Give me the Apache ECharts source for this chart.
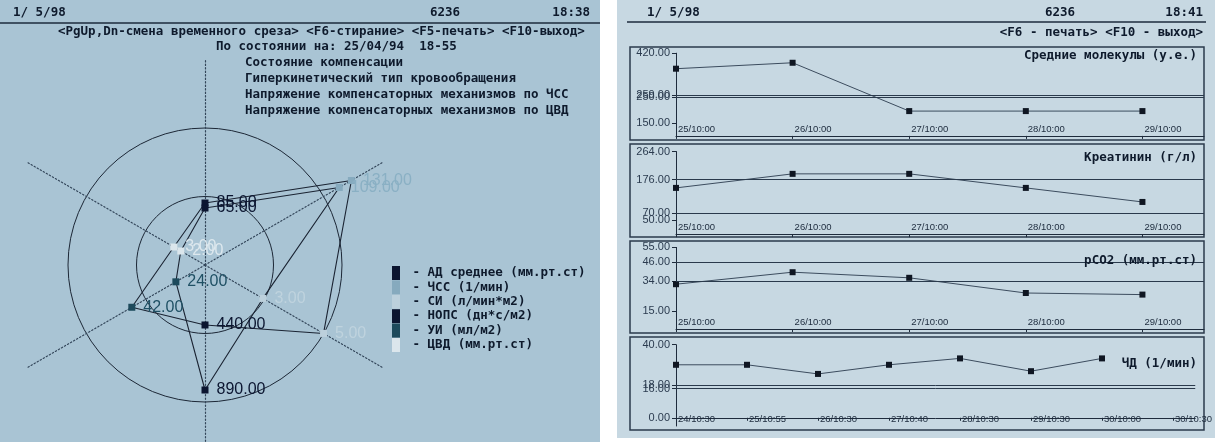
<!DOCTYPE html>
<html><head><meta charset="utf-8">
<script src="https://cdn.jsdelivr.net/npm/echarts@6/dist/echarts.min.js"></script>
<style>html,body{margin:0;padding:0;background:#fff}#c{width:1215px;height:442px}</style>
</head><body><div id="c"></div>
<script>
// ================= DATA =================
// Radar (left screen): indicators listed counter-clockwise starting from the top axis
const radarIndicators = ['АД', 'ЦВД', 'УИ', 'НОПС', 'СИ', 'ЧСС'];
const sliceCurrent  = [85, 3, 42, 440, 5, 131];
const slicePrevious = [65, 2, 24, 890, 3, 109];
const legendKeys  = ['АД', 'ЧСС', 'СИ', 'НОПС', 'УИ', 'ЦВД'];
const legendNames = ['АД среднее (мм.рт.ст)', 'ЧСС (1/мин)', 'СИ (л/мин*м2)', 'НОПС (дн*с/м2)', 'УИ (мл/м2)', 'ЦВД (мм.рт.ст)'];

// Trend charts (right screen)
const days5 = ['25/10:00', '26/10:00', '27/10:00', '28/10:00', '29/10:00'];
const moleculesValues = [360, 383, 196, 196, 196];
const moleculesTicks  = [420, 259, 250, 150];
const moleculesNorm   = [259, 250];
const creatinineValues = [150, 194, 194, 150, 106];
const creatinineTicks  = [264, 176, 70, 50];
const creatinineNorm   = [176, 70];
const pco2Values = [32, 39.5, 36, 26.5, 25.5];
const pco2Ticks  = [55, 46, 34, 15];
const pco2Norm   = [46, 34];
const rrTimes  = ['24/10:30', '25/10:55', '26/10:30', '27/10:40', '28/10:30', '29/10:30', '30/10:00', '30/10:30'];
const rrValues = [29, 29, 24, 29, 32.5, 25.5, 32.5];
const rrTicks  = [40, 18, 16, 0];
const rrNorm   = [18, 16];

// ================= STYLE / LAYOUT =================
const DOS = 'DejaVu Sans Mono';
const INK = '#0e1a2c';
const squareColor = {'АД':'#0b1530','ЧСС':'#86aabe','СИ':'#bcd0dc','НОПС':'#0b1530','УИ':'#1d4a5c','ЦВД':'#dbe6ec'};
const textColor   = {'АД':'#0b1530','ЧСС':'#8ab0c4','СИ':'#bfd3de','НОПС':'#0b1530','УИ':'#1f5064','ЦВД':'#dde8ee'};
// per-axis scale of the radar (layout)
const radarScale = {'АД':[-163,659],'ЦВД':[-1.5,24.2],'УИ':[12.1,84.8],'НОПС':[25,1447],'СИ':[1.09,6.96],'ЧСС':[-134.6,188.3]};

const panels = [
  {title:'Средние молекулы (у.е.)', values:moleculesValues, ticks:moleculesTicks, norm:moleculesNorm, cats:days5, min:100, max:420, top:53.2, bottom:135.9, frame:[47,140], xmax:4.528, ty:56},
  {title:'Креатинин (г/л)', values:creatinineValues, ticks:creatinineTicks, norm:creatinineNorm, cats:days5, min:5, max:264, top:151.5, bottom:234.2, frame:[144,237], xmax:4.528, ty:158},
  {title:'pCO2 (мм.рт.ст)', values:pco2Values, ticks:pco2Ticks, norm:pco2Norm, cats:days5, min:4, max:55, top:247.4, bottom:329, frame:[241,333], xmax:4.528, ty:261},
  {title:'ЧД (1/мин)', values:rrValues, ticks:rrTicks, norm:rrNorm, cats:rrTimes, min:-4.5, max:40, top:344.7, bottom:426, frame:[337,430], xmax:7.313, ty:364}
];

function txt(text, pos, y, extra) {
  return Object.assign({
    text: text, top: y - 7.5, padding: 0,
    textStyle: {fontFamily: DOS, fontWeight: 'bold', fontSize: 12.5, lineHeight: 15, color: INK}
  }, pos, extra || {});
}

const titles = [
  txt('1/ 5/98', {left: 13}, 13),
  txt('6236', {left: 430}, 13),
  txt('18:38', {right: 625}, 13),
  txt('<PgUp,Dn-смена временного среза> <F6-стирание> <F5-печать> <F10-выход>', {left: 58}, 32),
  txt('По состоянии на: 25/04/94  18-55', {left: 216}, 47),
  txt('Состояние компенсации', {left: 245}, 63),
  txt('Гиперкинетический тип кровообращения', {left: 245}, 79),
  txt('Напряжение компенсаторных механизмов по ЧСС', {left: 245}, 95),
  txt('Напряжение компенсаторных механизмов по ЦВД', {left: 245}, 111),
  txt('1/ 5/98', {left: 647}, 13),
  txt('6236', {left: 1045}, 13),
  txt('18:41', {right: 12}, 13),
  txt('<F6 - печать> <F10 - выход>', {right: 12}, 33)
];
panels.forEach(p => titles.push(txt(p.title, {right: 18}, p.ty)));

// radar labels: coloured square + value, coloured per indicator
const rich = {g: {width: 8}};
radarIndicators.forEach((k, i) => {
  rich['s' + i] = {width: 7, height: 7, backgroundColor: squareColor[k]};
  rich['t' + i] = {color: textColor[k], fontSize: 16, fontFamily: 'Liberation Sans'};
});
function radarLabel(p) {
  const i = p.dimensionIndex;
  const v = Array.isArray(p.value) ? p.value[i] : p.value;
  return '{s' + i + '| }{g|}{t' + i + '|' + Number(v).toFixed(2) + '}';
}

const grids = [], xAxes = [], yAxes = [], series = [];
panels.forEach((p, i) => {
  grids.push({left: 676, width: 528, top: p.top, height: p.bottom - p.top});
  const idx = p.cats.map((c, j) => j);
  // a blank end-stop at the axis bottom keeps ECharts' min/max label overlap rule away from the real labels
  const yVals = p.ticks.concat([p.min]);
  xAxes.push({
    type: 'value', gridIndex: i, min: 0, max: p.xmax,
    axisLine: {show: true, lineStyle: {color: '#1e2b3c', width: 1}},
    axisTick: {show: true, customValues: idx, length: 3, lineStyle: {color: '#1e2b3c'}},
    axisLabel: {customValues: idx, inside: true, align: 'left', verticalAlign: 'bottom', margin: 2, padding: [0, 0, 0, 2],
      showMinLabel: true, showMaxLabel: true, hideOverlap: false,
      fontSize: 9.5, fontFamily: 'Liberation Sans', color: '#1c2a3c', formatter: v => p.cats[Math.round(v)] || ''},
    splitLine: {show: false}
  });
  yAxes.push({
    type: 'value', gridIndex: i, min: p.min, max: p.max,
    axisLine: {show: true, lineStyle: {color: '#1e2b3c', width: 1}},
    axisTick: {show: true, customValues: yVals, length: 4, lineStyle: {color: '#1e2b3c'}},
    axisLabel: {customValues: yVals, margin: 6, showMinLabel: true, showMaxLabel: false, hideOverlap: false,
      fontSize: 11, fontFamily: 'Liberation Sans', color: '#2b3b4f',
      formatter: v => (p.ticks.indexOf(v) >= 0 ? Number(v).toFixed(2) : '')},
    splitLine: {show: false}
  });
  series.push({
    type: 'line', xAxisIndex: i, yAxisIndex: i, silent: true,
    data: p.values.map((v, j) => [j, v]),
    symbol: 'rect', symbolSize: 6, itemStyle: {color: '#0f1622'},
    lineStyle: {color: '#3c4c5e', width: 1},
    markLine: {silent: true, symbol: 'none', label: {show: false},
      lineStyle: {type: 'solid', color: '#2a3a4c', width: 1},
      data: p.norm.map(v => ({yAxis: v}))}
  });
});

// legend carriers (empty series, one per indicator)
legendKeys.forEach((k, i) => {
  series.push({type: 'scatter', name: legendNames[i], xAxisIndex: 0, yAxisIndex: 0, data: [], itemStyle: {color: squareColor[k], opacity: 1}});
});

series.push({
  type: 'radar', radarIndex: 0, silent: true,
  symbol: 'rect', symbolSize: 7, itemStyle: {color: 'rgba(0,0,0,0)'},
  lineStyle: {color: '#1a2332', width: 1.1},
  label: {show: true, position: 'right', distance: -7, formatter: radarLabel, rich: rich},
  data: [{name: 'Текущий срез', value: sliceCurrent}, {name: 'Предыдущий срез', value: slicePrevious}]
});

const option = {
  animation: false,
  title: titles,
  graphic: [
    {type: 'rect', z: -100, silent: true, shape: {x: 0, y: 0, width: 600, height: 442}, style: {fill: '#a9c4d4'}},
    {type: 'rect', z: -100, silent: true, shape: {x: 617, y: 0, width: 598, height: 438}, style: {fill: '#c7d8e2'}},
    {type: 'line', silent: true, shape: {x1: 0, y1: 23, x2: 600, y2: 23}, style: {stroke: '#1d2b3c', lineWidth: 1.5}},
    {type: 'line', silent: true, shape: {x1: 627, y1: 22, x2: 1206, y2: 22}, style: {stroke: '#1d2b3c', lineWidth: 1.5}}
  ].concat(panels.map(p => ({type: 'rect', silent: true, shape: {x: 630, y: p.frame[0], width: 574, height: p.frame[1] - p.frame[0]},
      style: {fill: 'none', stroke: '#2b3a4c', lineWidth: 1.5}}))),
  legend: {
    data: legendNames, orient: 'vertical', left: 392, top: 266, padding: 0,
    itemWidth: 8, itemHeight: 14, itemGap: 0.4, icon: 'rect', selectedMode: false,
    itemStyle: {opacity: 1},
    formatter: n => ' - ' + n,
    textStyle: {fontFamily: DOS, fontWeight: 'bold', fontSize: 12.5, lineHeight: 14, color: INK}
  },
  radar: {
    center: [205, 265], radius: 205.5, startAngle: 90, splitNumber: 3, shape: 'circle',
    indicator: radarIndicators.map(k => ({name: k, min: radarScale[k][0], max: radarScale[k][1]})),
    axisName: {show: false},
    axisLine: {lineStyle: {color: '#33465a', type: [1.3, 2.2], width: 1.2}},
    axisTick: {show: false}, axisLabel: {show: false},
    splitLine: {lineStyle: {color: ['#1c2736', '#1c2736', '#1c2736', 'rgba(0,0,0,0)'], width: 1}},
    splitArea: {show: false}
  },
  grid: grids, xAxis: xAxes, yAxis: yAxes, series: series
};
const chart = echarts.init(document.getElementById('c'), null, {renderer: 'canvas'});
chart.setOption(option);
</script></body></html>
